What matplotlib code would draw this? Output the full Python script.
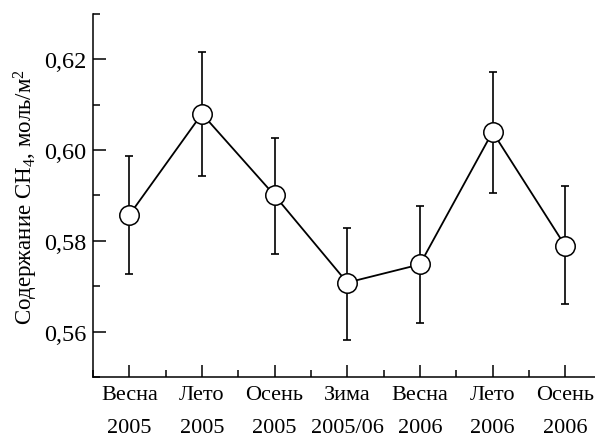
import matplotlib
matplotlib.use('Agg')
import matplotlib.pyplot as plt
from matplotlib.ticker import MultipleLocator, FixedLocator

plt.rcParams['font.family'] = ['Liberation Serif', 'DejaVu Serif']
plt.rcParams['mathtext.fontset'] = 'custom'
plt.rcParams['mathtext.rm'] = 'Liberation Serif'
plt.rcParams['mathtext.default'] = 'regular'

seasons = ['Весна\n2005', 'Лето\n2005', 'Осень\n2005', 'Зима\n2005/06',
           'Весна\n2006', 'Лето\n2006', 'Осень\n2006']
ch4 = [0.5857, 0.6080, 0.5900, 0.5708, 0.5748, 0.6040, 0.5789]
err_low = [0.0129, 0.0138, 0.0129, 0.0126, 0.0129, 0.0134, 0.0129]
err_high = [0.0130, 0.0137, 0.0127, 0.0120, 0.0129, 0.0133, 0.0132]

fig = plt.figure(figsize=(5.95, 4.39), dpi=100)
ax = fig.add_axes([0.1563, 0.139, 0.8437, 0.827])

x = list(range(1, len(ch4) + 1))
ax.errorbar(x, ch4, yerr=[err_low, err_high], color='black', lw=1.3,
            elinewidth=1.2, capsize=3, capthick=1.2, zorder=2, fmt='none')
ax.plot(x, ch4, color='black', lw=1.3, marker='o', markersize=14,
        markerfacecolor='white', markeredgecolor='black', markeredgewidth=1.1,
        zorder=3)

ax.set_xlim(0.5, 7.41)
ax.set_ylim(0.55, 0.63)
ax.set_xticks(x)
ax.set_xticklabels(seasons, linespacing=1.95, fontsize=16)
ax.xaxis.set_minor_locator(FixedLocator([i + 0.5 for i in range(0, 8)]))
ax.set_yticks([0.56, 0.58, 0.60, 0.62])
ax.set_yticklabels(['0,56', '0,58', '0,60', '0,62'], fontsize=17.5)
ax.yaxis.set_minor_locator(MultipleLocator(0.01))

ax.tick_params(which='major', direction='in', length=9, width=1.1)
ax.tick_params(which='minor', direction='in', length=5, width=1.1)
ax.tick_params(axis='y', pad=5)
ax.tick_params(axis='x', pad=6)

for s in ['top', 'right']:
    ax.spines[s].set_visible(False)
for s in ['left', 'bottom']:
    ax.spines[s].set_linewidth(1.1)

ax.set_ylabel(r'Содержание CH$_4$, моль/м$^2$', fontsize=16.5, labelpad=3)

fig.savefig('out.png', dpi=100)
